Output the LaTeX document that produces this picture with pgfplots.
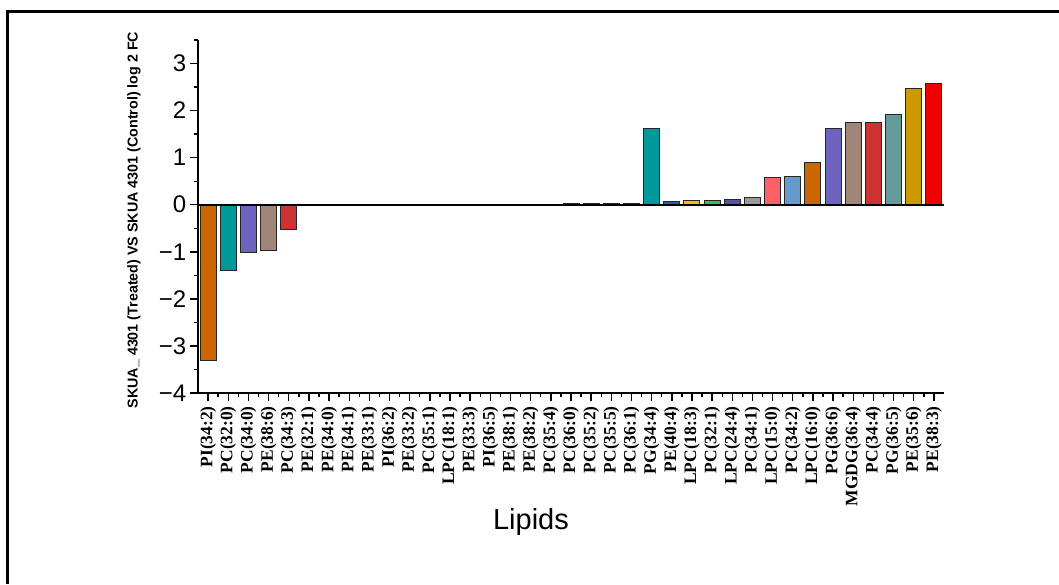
\documentclass[border=0pt]{standalone}
\usepackage{fontspec}
\setmainfont{Liberation Sans}
\newfontfamily\tnr{Liberation Serif}
\usepackage{pgfplots}
\pgfplotsset{compat=1.18}
\definecolor{cOr}{HTML}{CC6600}
\definecolor{cTe}{HTML}{009999}
\definecolor{cPu}{HTML}{6E63BE}
\definecolor{cTa}{HTML}{A08578}
\definecolor{cRe}{HTML}{CC3333}
\definecolor{cNa}{HTML}{335B99}
\definecolor{cGo}{HTML}{FFBC00}
\definecolor{cGr}{HTML}{33BB66}
\definecolor{cSl}{HTML}{56569A}
\definecolor{cGy}{HTML}{9A9A9A}
\definecolor{cSa}{HTML}{FF6066}
\definecolor{cBl}{HTML}{6699CC}
\definecolor{cGt}{HTML}{669999}
\definecolor{cMu}{HTML}{CC9900}
\definecolor{cRd}{HTML}{EE0000}
\definecolor{cBr}{HTML}{665522}
\begin{document}
\begin{tikzpicture}
\path[use as bounding box] (0pt,0pt) rectangle (1059pt,584pt);
\draw[line width=3pt] (7.5pt,0pt) -- (7.5pt,572.5pt) -- (1059pt,572.5pt);
\begin{axis}[
  at={(198pt,191pt)}, anchor=south west,
  scale only axis, width=746pt, height=353pt,
  xmin=-0.5, xmax=36.5, ymin=-4, ymax=3.5,
  axis x line*=bottom, axis y line*=left,
  axis line style={line width=1.6pt, -},
  tick align=outside,
  major tick length=8pt, minor tick length=4pt,
  every tick/.style={black, line width=1.4pt},
  ytick={-4,-3,-2,-1,0,1,2,3},
  yticklabels={−4,−3,−2,−1,0,1,2,3},
  minor ytick={-3.5,-2.5,-1.5,-0.5,0.5,1.5,2.5,3.5},
  yticklabel style={font=\fontsize{24}{24}\selectfont, inner sep=3.5pt},
  xtick={0,...,36},
  minor xtick={0.5,1.5,...,35.5},
  xticklabels={PI(34:2),PC(32:0),PC(34:0),PE(38:6),PC(34:3),PE(32:1),PE(34:0),PE(34:1),PE(33:1),PI(36:2),PE(33:2),PC(35:1),LPC(18:1),PE(33:3),PI(36:5),PE(38:1),PE(38:2),PC(35:4),PC(36:0),PC(35:2),PC(35:5),PC(36:1),PG(34:4),PE(40:4),LPC(18:3),PC(32:1),LPC(24:4),PC(34:1),LPC(15:0),PC(34:2),LPC(16:0),PG(36:6),MGDG(36:4),PC(34:4),PG(36:5),PE(35:6),PE(38:3)},
  xticklabel style={rotate=90, anchor=east, inner sep=5pt, font=\tnr\bfseries\fontsize{17.5}{17.5}\selectfont},
  mybar/.style={ybar, bar width=16pt, bar shift=0pt, draw=black!85, line width=1pt, fill=#1},
]
\addplot[mybar=cOr] coordinates {(0,-3.32)};
\addplot[mybar=cTe] coordinates {(1,-1.40)};
\addplot[mybar=cPu] coordinates {(2,-1.02)};
\addplot[mybar=cTa] coordinates {(3,-0.97)};
\addplot[mybar=cRe] coordinates {(4,-0.52)};
\addplot[mybar=cGy] coordinates {(5,0)};
\addplot[mybar=cGy] coordinates {(6,0)};
\addplot[mybar=cGy] coordinates {(7,0)};
\addplot[mybar=cGy] coordinates {(8,0)};
\addplot[mybar=cGy] coordinates {(9,0)};
\addplot[mybar=cGy] coordinates {(10,0)};
\addplot[mybar=cGy] coordinates {(11,0)};
\addplot[mybar=cGy] coordinates {(12,0)};
\addplot[mybar=cGy] coordinates {(13,0)};
\addplot[mybar=cGy] coordinates {(14,0)};
\addplot[mybar=cGy] coordinates {(15,0)};
\addplot[mybar=cGy] coordinates {(16,0)};
\addplot[mybar=cGy] coordinates {(17,0.01)};
\addplot[mybar=black] coordinates {(18,0.02)};
\addplot[mybar=black] coordinates {(19,0.02)};
\addplot[mybar=black] coordinates {(20,0.02)};
\addplot[mybar=cBr] coordinates {(21,0.03)};
\addplot[mybar=cTe] coordinates {(22,1.61)};
\addplot[mybar=cNa] coordinates {(23,0.07)};
\addplot[mybar=cGo] coordinates {(24,0.10)};
\addplot[mybar=cGr] coordinates {(25,0.10)};
\addplot[mybar=cSl] coordinates {(26,0.12)};
\addplot[mybar=cGy] coordinates {(27,0.15)};
\addplot[mybar=cSa] coordinates {(28,0.57)};
\addplot[mybar=cBl] coordinates {(29,0.61)};
\addplot[mybar=cOr] coordinates {(30,0.90)};
\addplot[mybar=cPu] coordinates {(31,1.61)};
\addplot[mybar=cTa] coordinates {(32,1.74)};
\addplot[mybar=cRe] coordinates {(33,1.75)};
\addplot[mybar=cGt] coordinates {(34,1.92)};
\addplot[mybar=cMu] coordinates {(35,2.48)};
\addplot[mybar=cRd] coordinates {(36,2.58)};
\addplot[black, line width=1.6pt, forget plot] coordinates {(-0.5,0) (36.5,0)};
\end{axis}
\node[rotate=90, font=\bfseries\fontsize{14.3}{14.3}\selectfont] at (134pt,364pt) {SKUA\_ 4301 (Treated) VS SKUA 4301 (Control) log 2 FC};
\node[font=\fontsize{29}{29}\selectfont] at (531pt,62pt) {Lipids};
\end{tikzpicture}
\end{document}
